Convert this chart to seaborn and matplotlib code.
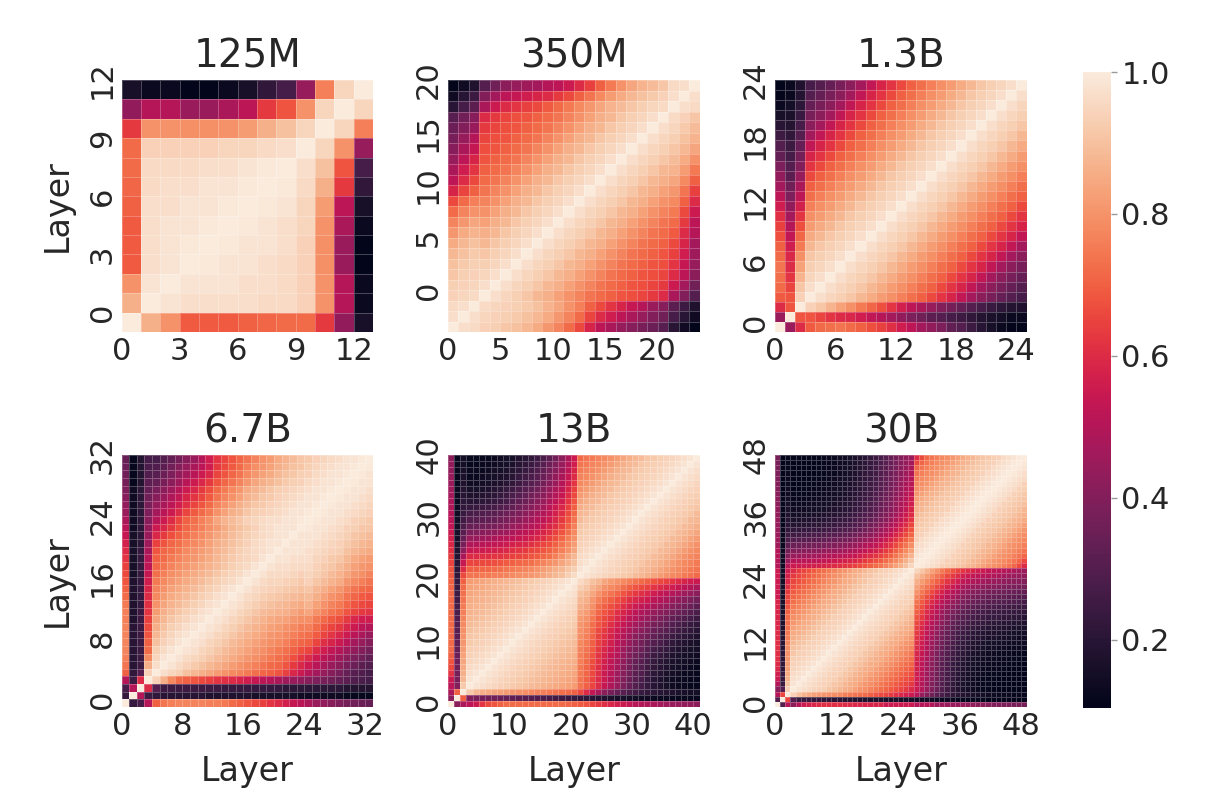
import numpy as np
import matplotlib
matplotlib.use("Agg")
import matplotlib.pyplot as plt
import seaborn as sns

# model names and the tick step used on each panel
titles = ["125M", "350M", "1.3B", "6.7B", "13B", "30B"]
tick_steps = [3, 5, 6, 8, 10, 12]
cbar_ticks = [0.2, 0.4, 0.6, 0.8, 1.0]

# layer-by-layer similarity (percent), lower triangle: line i = layer i, columns 0..i
sim_125m = """
100
86 100
80 98 100
69 97 98 100
69 97 98 99 100
69 97 98 98 99 100
70 97 97 98 98 99 100
71 96 97 97 98 98 99 100
72 96 96 96 97 97 98 99 100
72 94 94 94 94 95 95 96 97 100
63 80 80 79 79 80 82 86 90 95 100
43 50 50 45 45 48 52 63 68 80 95 100
16 13 13 10 10 13 16 22 27 44 76 95 100
"""

sim_350m = """
100
97 100
96 97 100
94 95 96 100
93 94 95 97 100
91 93 94 95 97 100
90 92 93 93 95 97 100
88 90 92 91 93 95 97 100
85 88 90 88 91 93 95 97 100
81 85 87 86 88 91 93 95 97 100
77 81 84 83 86 88 91 93 95 97 100
72 77 80 80 83 86 88 91 93 95 97 100
66 72 76 77 80 83 86 88 91 93 95 97 100
58 65 70 74 77 80 83 86 88 91 93 95 97 100
52 60 66 72 74 77 80 83 86 88 91 93 95 97 100
48 56 62 70 72 74 77 80 83 86 88 91 93 95 97 100
44 52 58 68 70 72 74 77 80 83 86 88 91 93 95 97 100
41 48 54 67 68 70 72 74 77 80 83 86 88 91 93 95 97 100
38 44 50 65 67 68 70 72 74 77 80 83 86 88 91 93 95 97 100
35 40 45 63 65 67 68 70 72 74 77 80 83 86 88 91 93 95 97 100
31 36 41 60 63 65 67 68 70 72 74 77 80 83 86 88 91 93 95 97 100
20 27 32 48 55 60 62 64 66 69 72 75 78 81 84 87 89 91 93 95 96 100
14 20 25 40 47 52 54 56 58 60 63 66 70 74 78 82 85 88 90 92 94 97 100
10 14 18 30 36 42 44 46 47 50 52 55 60 64 70 75 80 84 87 89 91 96 97 100
"""

sim_1_3b = """
100
45 100
60 68 100
69 68 94 100
72 65 91 97 100
73 62 87 95 97 100
74 60 83 93 95 97 100
72 59 79 91 93 95 97 100
70 56 75 88 91 93 95 97 100
67 53 71 85 88 91 93 95 97 100
64 50 67 82 85 88 91 93 95 97 100
61 47 62 79 82 85 88 91 93 95 97 100
56 43 57 76 79 82 85 88 91 93 95 97 100
52 39 52 73 76 79 82 85 88 91 93 95 97 100
47 36 48 70 73 76 79 82 85 88 91 93 95 97 100
43 32 44 66 70 73 76 79 82 85 88 91 93 95 97 100
39 30 40 62 66 70 73 76 79 82 85 88 91 93 95 97 100
33 27 37 58 62 66 70 73 76 79 82 85 88 91 93 95 97 100
30 25 34 53 58 62 66 70 73 76 79 82 85 88 91 93 95 97 100
25 22 30 47 53 58 62 66 70 73 76 79 82 85 88 91 93 95 97 100
20 19 27 42 47 53 58 62 66 70 73 76 79 82 85 88 91 93 95 97 100
16 17 24 38 42 47 53 58 62 66 70 73 76 79 82 85 88 91 93 95 97 100
13 15 21 34 38 42 47 53 58 62 66 70 73 76 79 82 85 88 91 93 95 97 100
11 13 19 30 34 38 42 47 53 58 62 66 70 73 76 79 82 85 88 91 93 95 97 100
10 13 18 27 30 34 38 42 47 53 58 62 66 70 73 76 79 82 85 88 91 93 95 97 100
"""

sim_6_7b = """
100
23 100
27 50 100
50 25 60 100
70 22 30 94 100
74 20 25 86 97 100
76 20 25 78 95 98 100
77 20 25 72 93 96 98 100
77 20 25 70 90 94 96 98 100
77 20 25 68 88 92 95 97 98 100
77 20 25 66 86 90 93 95 97 98 100
76 18 25 64 84 88 91 93 95 97 98 100
76 18 25 62 82 86 89 91 93 95 97 98 100
75 18 23 61 80 84 87 89 91 93 95 97 98 100
72 18 23 60 78 82 85 87 89 91 93 95 97 98 100
70 18 23 58 77 80 83 85 87 89 91 93 95 97 98 100
68 18 23 56 75 78 81 83 85 87 89 91 93 95 96 98 100
66 16 23 54 73 76 79 81 83 85 87 89 91 93 95 96 98 100
64 16 23 52 71 74 77 79 81 83 85 87 89 91 93 95 96 98 100
62 16 23 50 70 72 75 77 79 81 83 85 88 90 92 94 95 96 98 100
60 16 23 48 68 71 73 75 78 80 82 84 87 89 91 93 95 96 97 98 100
57 16 21 46 64 68 71 73 76 78 80 83 86 88 90 92 94 96 97 98 98 100
54 16 21 45 59 63 67 70 73 76 78 81 84 86 89 91 93 95 96 97 98 98 100
51 14 21 43 55 59 63 67 71 74 76 79 82 85 88 90 92 94 96 97 98 98 98 100
48 14 21 41 50 55 60 65 70 73 76 79 84 87 89 91 94 95 96 97 97 98 98 99 100
45 14 21 39 47 51 55 60 65 69 72 75 80 83 86 88 91 93 94 95 96 97 98 98 99 100
43 14 21 38 44 48 52 56 61 65 68 72 77 80 83 86 89 91 92 94 95 96 97 98 98 99 100
41 14 21 36 41 45 49 53 58 62 65 69 74 77 80 83 87 89 91 92 94 95 96 97 98 98 99 100
39 14 21 34 38 42 46 50 55 59 63 67 72 75 78 81 85 87 89 91 93 94 95 96 97 98 98 99 100
37 12 19 32 34 38 42 46 51 55 59 63 68 71 74 77 81 84 86 88 90 92 93 94 96 97 98 98 99 100
36 12 19 29 31 35 39 43 47 51 55 59 65 68 71 74 78 81 83 85 88 90 91 93 94 96 97 98 98 99 100
35 12 19 28 29 32 36 40 44 48 52 56 63 66 69 72 76 79 81 83 86 88 90 91 93 95 96 97 98 98 99 100
34 12 19 27 27 30 33 37 41 45 50 56 62 65 68 71 74 77 80 82 85 87 89 91 92 94 95 96 97 98 98 99 100
"""

sim_13b = """
100
42 100
48 70 100
52 40 92 100
55 38 88 98 100
62 37 86 97 98 100
66 36 85 96 97 98 100
68 36 84 95 96 97 98 100
70 35 83 94 95 96 97 98 100
72 34 82 93 94 95 96 97 98 100
72 33 81 92 93 94 95 96 97 98 100
72 32 80 91 92 93 94 95 96 97 98 100
72 31 79 90 91 92 93 94 95 96 97 98 100
72 30 78 89 90 91 92 93 94 95 96 97 98 100
72 29 77 88 89 90 91 92 93 94 95 96 97 98 100
72 28 76 87 88 89 90 91 92 93 94 95 96 97 98 100
72 27 75 86 87 88 89 90 91 92 93 94 95 96 97 98 100
72 26 74 85 86 87 88 89 90 91 92 93 94 95 96 97 98 100
72 25 73 84 85 86 87 88 89 90 91 92 93 94 95 96 97 98 100
71 24 72 83 84 85 86 87 88 89 90 91 92 93 94 95 96 97 98 100
70 23 70 82 83 84 85 86 87 88 89 90 91 92 93 94 95 96 97 98 100
69 22 66 74 74 75 75 76 76 77 78 79 80 81 82 84 86 88 90 93 96 100
68 21 60 70 70 71 71 72 73 74 75 76 77 78 80 82 84 86 88 91 93 98 100
65 20 54 65 65 66 66 67 68 69 70 71 72 73 75 77 79 81 84 87 90 97 98 100
63 19 48 60 60 61 61 62 62 63 64 65 66 68 69 71 73 76 80 84 88 96 97 98 100
61 18 42 54 55 55 56 57 58 59 61 62 63 65 66 68 70 73 76 80 84 95 96 97 98 100
59 17 38 49 50 51 52 53 54 55 57 58 59 61 63 65 67 70 74 78 82 94 95 96 97 98 100
57 16 34 44 45 46 47 48 50 51 52 54 55 57 59 61 64 67 71 76 80 93 94 95 96 97 98 100
55 16 31 39 40 41 42 43 45 46 48 50 52 54 56 58 61 64 68 73 78 92 93 94 95 96 97 98 100
53 15 28 34 35 36 37 38 40 41 44 46 48 50 52 55 58 61 65 70 76 91 92 93 94 95 96 97 98 100
51 15 26 30 31 32 33 34 36 38 40 42 45 47 50 52 55 59 63 68 74 89 91 92 93 94 95 96 97 98 100
50 14 24 27 28 29 30 31 33 35 37 39 42 44 47 49 53 57 61 66 72 88 89 91 92 93 94 95 96 97 98 100
49 14 22 23 24 25 26 27 29 31 33 36 39 41 44 47 51 55 59 64 70 86 88 89 91 92 93 94 95 96 97 98 100
48 13 21 20 20 21 22 23 25 27 30 33 35 38 41 44 48 52 56 62 68 84 86 88 89 91 92 93 94 95 96 97 98 100
47 13 20 18 18 19 20 21 23 25 28 30 33 36 39 42 46 50 54 60 66 82 84 86 88 89 91 92 93 94 95 96 97 98 100
46 13 19 16 16 17 18 19 21 23 25 28 31 33 36 40 44 48 52 58 64 80 82 84 86 88 89 91 92 93 94 95 96 97 98 100
45 12 18 14 14 15 16 17 18 20 22 25 28 30 33 37 41 45 50 56 62 78 80 82 84 86 88 89 91 92 93 94 95 96 97 98 100
44 12 17 13 13 14 15 16 17 18 20 23 26 28 31 35 39 43 48 54 60 77 78 80 82 84 86 88 89 91 92 93 94 95 96 97 98 100
43 12 16 13 13 13 14 15 16 17 19 21 24 26 29 33 37 41 46 52 58 75 77 78 80 82 84 86 88 89 91 92 93 94 95 96 97 98 100
43 12 15 12 12 13 13 14 15 16 17 20 22 24 27 31 35 39 44 50 56 74 75 77 78 80 82 84 86 88 89 91 92 93 94 95 96 97 98 100
42 12 15 12 12 12 12 13 14 15 16 18 20 22 25 28 32 36 42 48 55 72 74 75 77 78 80 82 84 86 88 89 91 92 93 94 95 96 97 98 100
"""

sim_30b = """
100
30 100
50 65 100
42 30 94 100
50 24 90 98 100
55 23 87 97 98 100
57 23 85 96 97 98 100
59 22 83 95 96 97 98 100
60 22 82 94 95 96 97 98 100
61 21 81 93 94 95 96 97 98 100
61 21 80 91 93 94 95 96 97 98 100
61 20 79 90 91 93 94 95 96 97 98 100
61 20 78 88 90 91 93 94 95 96 97 98 100
60 19 76 86 88 90 91 93 94 95 96 97 98 100
60 19 75 85 86 88 90 91 93 94 95 96 97 98 100
59 18 74 83 85 86 88 90 91 93 94 95 96 97 98 100
59 18 73 81 83 85 86 88 90 91 93 94 95 96 97 98 100
58 18 72 79 81 83 85 86 88 90 91 93 94 95 96 97 98 100
58 17 70 77 79 81 83 85 86 88 90 91 93 94 95 96 97 98 100
58 17 68 75 77 79 81 83 85 86 88 90 91 93 94 95 96 97 98 100
58 17 66 73 75 77 79 81 83 85 86 88 90 91 93 94 95 96 97 98 100
55 16 65 71 73 75 77 79 81 83 85 86 88 90 91 93 94 95 96 97 98 100
55 16 63 69 71 73 75 77 79 81 83 85 86 88 90 91 93 94 95 96 97 98 100
55 16 61 67 69 71 73 75 77 79 81 83 85 86 88 90 91 93 94 95 96 97 98 100
55 15 59 65 67 69 71 73 75 77 79 81 83 85 86 88 90 91 93 94 95 96 97 98 100
55 15 57 63 65 67 69 71 73 75 77 79 81 83 85 86 88 90 91 93 94 95 96 97 98 100
55 15 55 60 63 65 67 69 71 73 75 77 79 81 83 85 86 88 90 91 93 94 95 96 97 98 100
50 14 50 55 55 56 56 57 57 58 59 60 61 62 63 64 66 68 70 72 74 77 80 83 86 90 95 100
50 14 45 50 50 51 51 52 52 53 54 55 56 57 58 59 61 63 65 67 69 72 75 78 82 86 91 99 100
50 14 40 45 45 46 46 47 47 48 49 50 51 52 53 54 56 58 60 62 64 67 70 74 78 82 87 98 99 100
50 14 36 40 40 41 41 42 42 43 44 45 46 47 48 49 51 53 55 57 60 63 66 70 74 78 83 97 98 99 100
46 13 32 35 35 36 36 37 37 38 39 40 41 42 43 45 47 49 51 53 56 59 62 66 70 74 79 96 97 98 99 100
46 13 28 30 30 31 31 32 32 33 34 35 36 37 38 40 42 44 46 49 52 55 58 62 66 70 75 94 96 97 98 99 100
45 13 25 26 26 27 27 28 28 29 30 31 32 33 34 36 38 40 42 45 48 51 54 58 62 66 71 93 94 96 97 98 99 100
45 13 22 22 22 23 23 24 24 25 26 27 28 29 30 32 34 36 39 42 45 48 51 55 59 63 68 92 93 94 96 97 98 99 100
44 12 20 19 19 20 20 21 21 22 23 24 25 26 27 29 31 33 36 39 42 45 48 52 56 60 65 91 92 93 94 96 97 98 99 100
44 12 19 17 17 18 18 19 19 20 21 22 23 24 25 27 29 31 33 36 39 42 45 49 53 57 62 90 91 92 93 94 96 97 98 99 100
43 12 18 15 15 16 16 17 17 18 19 20 21 22 23 25 27 29 31 34 37 40 43 47 51 55 60 88 90 91 92 93 94 96 97 98 99 100
43 12 17 14 14 14 15 15 16 16 17 18 19 20 21 23 25 27 29 32 35 38 41 45 49 53 58 87 88 90 91 92 93 94 96 97 98 99 100
42 12 16 13 13 13 14 14 15 15 16 17 18 19 20 22 24 26 28 31 34 37 40 44 48 52 56 85 87 88 90 91 92 93 94 96 97 98 99 100
42 12 15 12 12 12 13 13 14 14 15 16 17 18 19 21 23 25 27 30 33 36 39 43 47 51 55 83 85 87 88 90 91 92 93 94 96 97 98 99 100
41 11 14 12 12 12 12 13 13 14 14 15 16 17 18 20 22 24 26 29 32 35 38 42 46 50 53 81 83 85 87 88 90 91 92 93 94 96 97 98 99 100
40 11 14 11 11 12 12 12 13 13 14 15 16 17 18 19 21 23 25 28 31 34 37 41 45 49 52 79 81 83 85 87 88 90 91 92 93 94 96 97 98 99 100
40 11 13 11 11 11 12 12 12 13 13 14 15 16 17 19 21 23 25 27 30 33 36 40 44 48 51 78 79 81 83 85 87 88 90 91 92 93 94 96 97 98 99 100
39 11 13 11 11 11 11 12 12 12 13 14 15 16 17 18 20 22 24 27 30 33 36 39 43 47 50 76 78 79 81 83 85 87 88 90 91 92 93 94 96 97 98 99 100
39 11 13 11 11 11 11 11 12 12 13 13 14 15 16 18 20 22 24 26 29 32 35 39 42 46 49 74 76 78 79 81 83 85 87 88 90 91 92 93 94 96 97 98 99 100
38 11 12 10 11 11 11 11 12 12 12 13 14 15 16 17 19 21 23 26 29 32 35 38 42 45 48 71 74 76 78 79 81 83 85 87 88 90 91 92 93 94 96 97 98 99 100
38 11 12 10 10 11 11 11 11 12 12 13 14 14 15 17 19 21 23 25 28 31 34 38 41 44 47 66 71 74 76 78 79 81 83 85 87 88 90 91 92 93 94 96 97 98 99 100
37 11 12 10 10 10 11 11 11 12 12 13 14 14 15 17 18 20 22 25 27 30 34 37 40 43 45 60 66 71 74 76 78 79 81 83 85 87 88 90 91 92 93 94 96 97 98 99 100
"""


def full_matrix(text):
    rows = [[int(v) for v in line.split()] for line in text.strip().splitlines()]
    n = len(rows)
    m = np.zeros((n, n))
    for i, row in enumerate(rows):
        assert len(row) == i + 1, (n, i, len(row))
        for j, v in enumerate(row):
            m[i, j] = v / 100
            m[j, i] = v / 100
    return m


mats = [full_matrix(t) for t in [sim_125m, sim_350m, sim_1_3b, sim_6_7b, sim_13b, sim_30b]]

sns.set_theme(style="white", font_scale=2)
plt.rcParams["font.family"] = ["DejaVu Sans"]

fig = plt.figure(figsize=(12.28, 8.02), dpi=100)
W, H = 1228, 802
lefts = [121.5, 448, 775]
tops = [80, 455]
size = 251.5
cax = fig.add_axes([1083 / W, 1 - 708 / H, 28 / W, 636 / H])

for k, (m, title, step) in enumerate(zip(mats, titles, tick_steps)):
    r, c = divmod(k, 3)
    ax = fig.add_axes([lefts[c] / W, 1 - (tops[r] + 252) / H, size / W, 252 / H])
    sns.heatmap(np.flipud(m), ax=ax, cmap="rocket", vmin=0.104, vmax=1.0,
                cbar=(k == 0), cbar_ax=cax if k == 0 else None,
                linewidths=0.5, linecolor=(1, 1, 1, 0.25),
                xticklabels=False, yticklabels=False)
    n = m.shape[0]
    ticks = list(range(0, n, step))
    ax.set_xticks(ticks)
    ax.set_xticklabels([str(t) for t in ticks], rotation=0)
    ax.set_yticks(ticks)
    ax.set_yticklabels([str(t) for t in ticks[::-1]], rotation=90, va="center")
    ax.tick_params(length=0)
    ax.set_title(title, fontsize=28, pad=9)
    if c == 0:
        ax.set_ylabel("Layer", labelpad=10)
    if r == 1:
        ax.set_xlabel("Layer", labelpad=10)

cax.set_yticks(cbar_ticks)
cax.set_yticklabels([f"{t:.1f}" for t in cbar_ticks])
cax.tick_params(labelsize=22, right=True, length=4, width=1, color="#999999")

fig.savefig("out.png", dpi=100)
